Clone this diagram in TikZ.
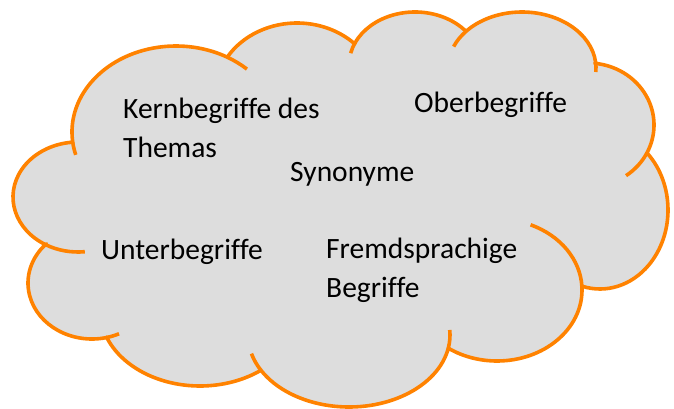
\documentclass[tikz,border=0pt]{standalone}
\usepackage{fontspec}
\setmainfont{Carlito}[Ligatures=CommonOff]
\usepackage{tikz}
\usetikzlibrary{calc}
\definecolor{cloudorange}{RGB}{255,130,0}
\definecolor{cloudgrey}{RGB}{221,221,221}

\begin{document}
\begin{tikzpicture}[x=1pt, y=-1pt,
		cloudline/.style={line width=3.6pt, draw=cloudorange, line join=round},
		word/.style={anchor=base west, inner sep=0pt, align=left,
			font=\fontsize{29.5}{38.5}\selectfont}]
		
		\useasboundingbox (0, 0) rectangle (674, 409);
		
		% outline of the cloud, one arc per bump
		\filldraw [cloudline, fill=cloudgrey]
			($(176, 132)+(173.2:104 and 86)$) arc [start angle=173.2, end angle=299.7, x radius=104, y radius=86]
			-- ($(297, 95)+(211.7:82 and 72)$) arc [start angle=211.7, end angle=314.5, x radius=82, y radius=72]
			-- ($(415, 65)+(205:66 and 53)$) arc [start angle=205, end angle=320.6, x radius=66, y radius=53]
			-- ($(522, 68)+(220.8:74 and 56)$) arc [start angle=220.8, end angle=353.8, x radius=74, y radius=56]
			-- ($(588, 125)+(-84:66 and 62)$) arc [start angle=-84, end angle=26.4, x radius=66, y radius=62]
			-- ($(600, 210)+(-45.6:68 and 79)$) arc [start angle=-45.6, end angle=105, x radius=68, y radius=79]
			-- ($(497, 290)+(-3:85 and 71)$) arc [start angle=-3, end angle=124.8, x radius=85, y radius=71]
			-- ($(349, 335)+(10.6:101 and 72)$) arc [start angle=10.6, end angle=150.6, x radius=101, y radius=72]
			-- ($(200, 310)+(52.4:100 and 76)$) arc [start angle=52.4, end angle=159, x radius=100, y radius=76]
			-- ($(92, 283)+(77:64 and 56)$) arc [start angle=77, end angle=224.6, x radius=64, y radius=56]
			-- ($(78, 197)+(119.8:65 and 55)$) arc [start angle=119.8, end angle=264.6, x radius=65, y radius=55]
			-- cycle;
		
		% inner ends of the bumps
		\draw [cloudline] ($(176, 132)+(164.6:104 and 86)$) arc [start angle=164.6, end angle=173.2, x radius=104, y radius=86];
		\draw [cloudline] ($(176, 132)+(299.7:104 and 86)$) arc [start angle=299.7, end angle=313, x radius=104, y radius=86];
		\draw [cloudline] ($(415, 65)+(192.9:66 and 53)$) arc [start angle=192.9, end angle=205, x radius=66, y radius=53];
		\draw [cloudline] ($(522, 68)+(202.5:74 and 56)$) arc [start angle=202.5, end angle=220.8, x radius=74, y radius=56];
		\draw [cloudline] ($(522, 68)+(353.8:74 and 56)$) arc [start angle=353.8, end angle=364.1, x radius=74, y radius=56];
		\draw [cloudline] ($(588, 125)+(26.4:66 and 62)$) arc [start angle=26.4, end angle=54.8, x radius=66, y radius=62];
		\draw [cloudline] ($(497, 290)+(-66.7:85 and 71)$) arc [start angle=-66.7, end angle=-3, x radius=85, y radius=71];
		\draw [cloudline] ($(349, 335)+(-4:101 and 72)$) arc [start angle=-4, end angle=10.6, x radius=101, y radius=72];
		\draw [cloudline] ($(349, 335)+(150.6:101 and 72)$) arc [start angle=150.6, end angle=165, x radius=101, y radius=72];
		\draw [cloudline] ($(92, 283)+(65:64 and 56)$) arc [start angle=65, end angle=77, x radius=64, y radius=56];
		\draw [cloudline] ($(78, 197)+(84:65 and 55)$) arc [start angle=84, end angle=119.8, x radius=65, y radius=55];
		
		\node (kern) [word] at (123, 157) {Kernbegriffe des\\Themas};
		\node (ober) [word] at (414, 113) {Oberbegriffe};
		\node (syn) [word] at (290, 181) {Synonyme};
		\node (unter) [word] at (101, 259) {Unterbegriffe};
		\node (fremd) [word] at (326, 297) {Fremdsprachige\\Begriffe};
		
	\end{tikzpicture}
\end{document}
